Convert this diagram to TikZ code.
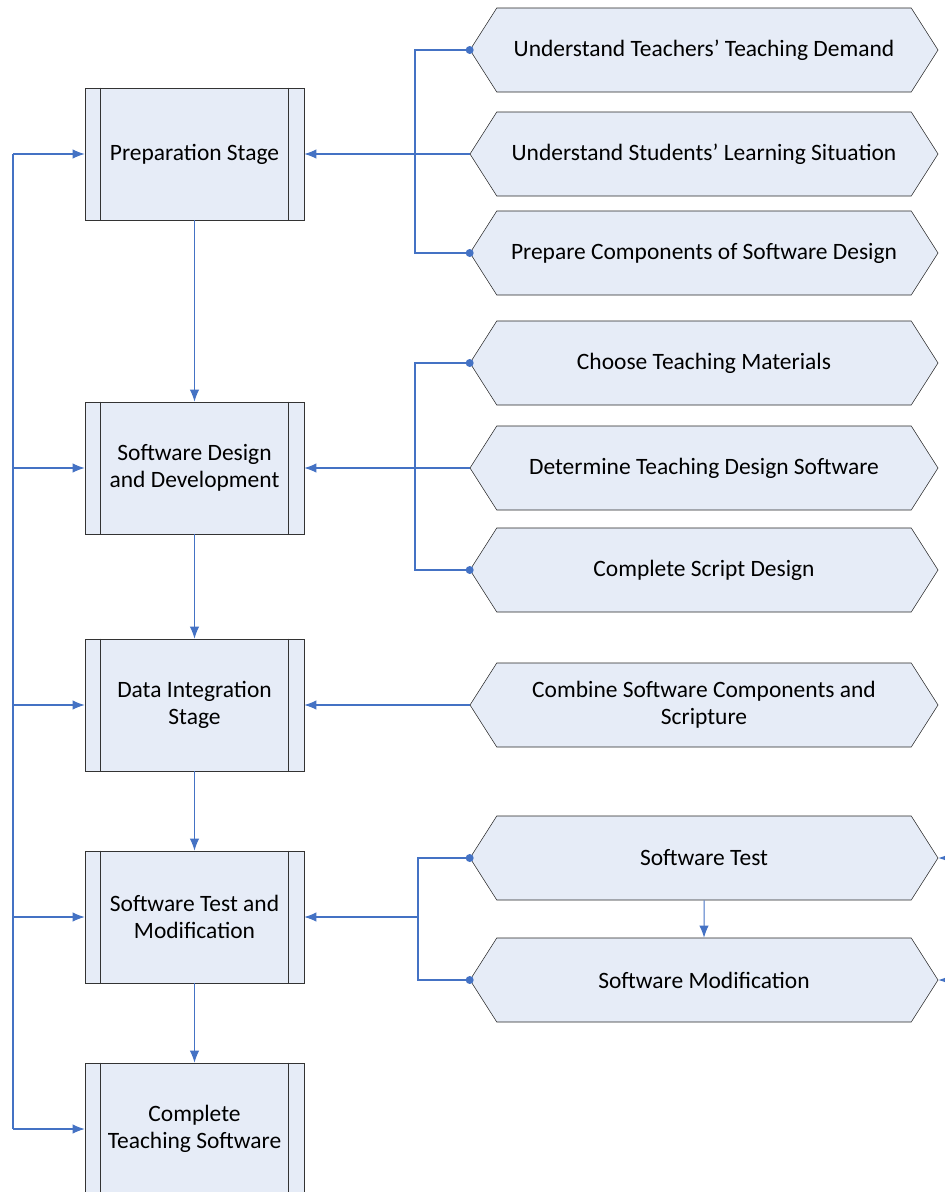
\documentclass[tikz,border=0pt]{standalone}
\usepackage{fontspec}
\setmainfont{Carlito}
\usetikzlibrary{shapes,arrows.meta,positioning}
\definecolor{lineblue}{RGB}{68,114,196}
\definecolor{boxfill}{RGB}{230,236,247}

\begin{document}
\begin{tikzpicture}[x=0.75pt,y=-0.75pt]
\tikzstyle{every node}=[font=\fontsize{17.6}{20}\selectfont]
\tikzstyle{stagebox}=[draw=black!80,fill=boxfill,minimum width=164.25pt,minimum height=99pt,inner sep=0pt,align=center]
\tikzstyle{taskbox}=[signal,signal to=east and west,signal pointer angle=115,draw=black!85,fill=boxfill,minimum width=351pt,minimum height=63pt,inner sep=0pt,align=center]
\tikzstyle{link}=[draw=lineblue,line width=0.8pt]
\tikzstyle{linkto}=[link,-{Latex[length=9pt,width=7pt]}]
\tikzstyle{dot}=[circle,fill=lineblue,inner sep=0pt,minimum size=6pt]

\useasboundingbox (0,0) rectangle (945,1192);
\clip (0,0) rectangle (945,1192);

%% stages on the left
\node (prep)   [stagebox] at (194.5,154)  {Preparation Stage};
\node (design) [stagebox] at (194.5,468)  {Software Design\\and Development};
\node (integ)  [stagebox] at (194.5,705)  {Data Integration\\Stage};
\node (test)   [stagebox] at (194.5,917)  {Software Test and\\Modification};
\node (done)   [stagebox] at (194.5,1129) {Complete\\Teaching Software};
\foreach \n in {prep,design,integ,test,done} {
    \draw [black!80] ([xshift=12pt]\n.north west) -- ([xshift=12pt]\n.south west);
    \draw [black!80] ([xshift=-12pt]\n.north east) -- ([xshift=-12pt]\n.south east);
}

%% tasks on the right
\node (t1) [taskbox] at (704,50)  {Understand Teachers’ Teaching Demand};
\node (t2) [taskbox] at (704,154) {Understand Students’ Learning Situation};
\node (t3) [taskbox] at (704,253) {Prepare Components of Software Design};
\node (t4) [taskbox] at (704,363) {Choose Teaching Materials};
\node (t5) [taskbox] at (704,468) {Determine Teaching Design Software};
\node (t6) [taskbox] at (704,570) {Complete Script Design};
\node (t7) [taskbox] at (704,705) {Combine Software Components and\\Scripture};
\node (t8) [taskbox] at (704,858) {Software Test};
\node (t9) [taskbox] at (704,980) {Software Modification};

%% main flow
\draw [linkto] (prep) -- (design);
\draw [linkto] (design) -- (integ);
\draw [linkto] (integ) -- (test);
\draw [linkto] (test) -- (done);

%% feedback line on the left
\coordinate (back) at (13,0);
\draw [link] (back |- prep) -- (back |- done);
\foreach \n in {prep,design,integ,test,done}
    \draw [linkto] (back |- \n) -- (\n.west);

%% task groups
\coordinate (bus1) at (415,0);
\coordinate (bus2) at (418,0);
\draw [link] (t1.west) -| (bus1 |- t2) |- (t3.west);
\draw [link] (t4.west) -| (bus1 |- t5) |- (t6.west);
\draw [link] (t8.west) -| (bus2 |- test) |- (t9.west);
\draw [linkto] (t2.west) -- (prep.east);
\draw [linkto] (t5.west) -- (design.east);
\draw [linkto] (t7.west) -- (integ.east);
\draw [linkto] (bus2 |- test) -- (test.east);
\foreach \t in {t1,t3,t4,t6,t8,t9}
    \node [dot] at (\t.west) {};

\draw [linkto] (t8) -- (t9);
\coordinate (rloop) at (990,0);
\draw [linkto] (rloop |- t8) -- (t8.east);
\draw [linkto] (rloop |- t9) -- (t9.east);
\end{tikzpicture}
\end{document}
